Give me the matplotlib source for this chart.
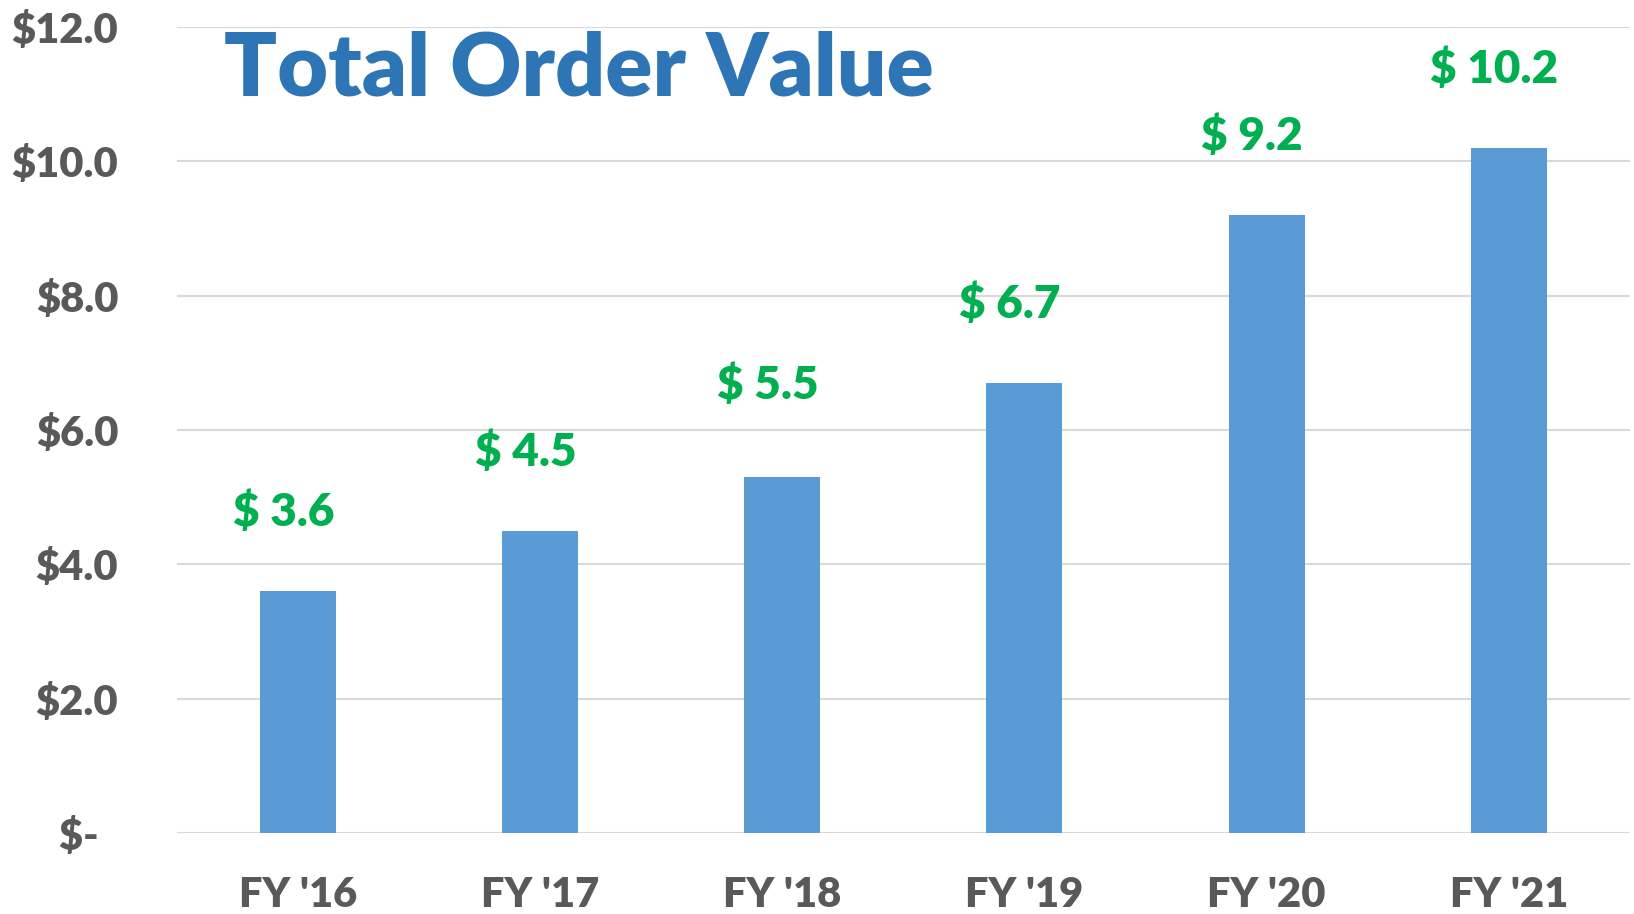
import numpy as np
import matplotlib
matplotlib.use('Agg')
import matplotlib.pyplot as plt

#%% data
years = ["FY '16", "FY '17", "FY '18", "FY '19", "FY '20", "FY '21"]
order_value = [3.6, 4.5, 5.3, 6.7, 9.2, 10.2]      # bar heights ($)
label_value = [3.6, 4.5, 5.5, 6.7, 9.2, 10.2]      # numbers shown above bars
y_ticks = [0, 2, 4, 6, 8, 10, 12]

plt.rcParams['font.family'] = ['Lato', 'DejaVu Sans']
plt.rcParams['font.weight'] = 'heavy'

gray = '#595959'

#%% plot
fig = plt.figure(figsize=(16.34, 9.14), dpi=100)
ax = fig.add_axes([0.1081, 0.0883, 0.8894, 0.8825])

x = np.arange(len(years))
ax.bar(x, order_value, width=0.314, color='#5B9BD5', zorder=2)

for xi, v in zip(x, label_value):
    ax.text(xi - 0.06, v + 1.18, '$ {:.1f}'.format(v), ha='center', va='center',
            color='#00B050', fontsize=33, fontweight='heavy')

ax.set_xlim(-0.5, len(years) - 0.5)
ax.set_ylim(0, 12)
ax.set_yticks(y_ticks)
ax.set_yticklabels(['$-  ' if t == 0 else '${:.1f}'.format(t) for t in y_ticks])
ax.set_xticks(x)
ax.set_xticklabels(years)
ax.tick_params(axis='y', length=0, pad=42, labelsize=30, labelcolor=gray)
ax.tick_params(axis='x', length=0, pad=31, labelsize=30, labelcolor=gray)

ax.grid(axis='y', color='#D9D9D9', linewidth=1.5, zorder=0)
ax.set_axisbelow(True)
for s in ax.spines.values():
    s.set_visible(False)

ax.text(0.0325, 0.915, 'Total Order Value', transform=ax.transAxes,
        ha='left', va='baseline', fontsize=63, fontweight='heavy', color='#2E75B6')

plt.savefig('out.png', dpi=100)
